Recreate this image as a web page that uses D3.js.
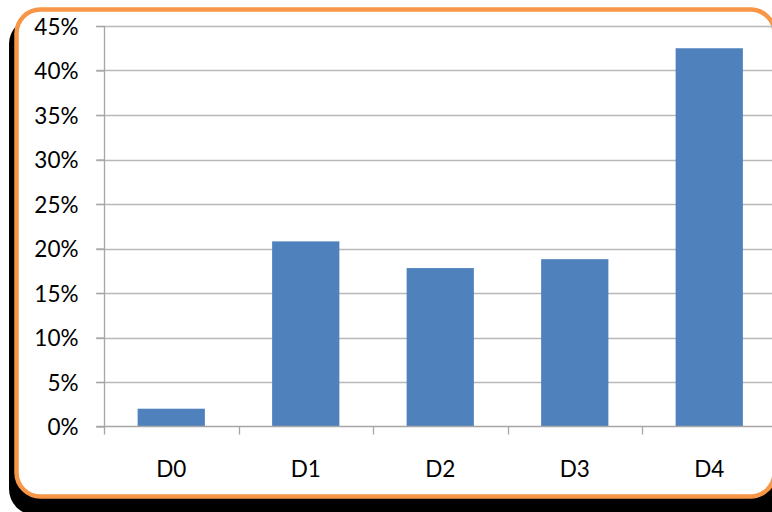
<!DOCTYPE html>
<html>
<head>
<meta charset="utf-8">
<script src="https://cdn.jsdelivr.net/npm/d3@7"></script>
<style>
  html, body { margin: 0; padding: 0; background: #ffffff; }
  svg { display: block; }
  text { font-family: Lato, "Open Sans", sans-serif; font-size: 22.5px; fill: #000; }
</style>
</head>
<body>
<svg id="chart" width="772" height="512"></svg>
<script>
// Share of records per class
const categories = ["D0", "D1", "D2", "D3", "D4"];
const shares = [0.02, 0.208, 0.178, 0.188, 0.425];
const yTicks = [0, 0.05, 0.10, 0.15, 0.20, 0.25, 0.30, 0.35, 0.40, 0.45];

const svg = d3.select("#chart");

// Rounded frame with a dark drop shadow
svg.append("rect")
  .attr("x", 9).attr("y", 18)
  .attr("width", 790).attr("height", 497)
  .attr("rx", 26).attr("ry", 26)
  .attr("fill", "#000");
svg.append("rect")
  .attr("x", 16.5).attr("y", 9.5)
  .attr("width", 758).attr("height", 487)
  .attr("rx", 24).attr("ry", 24)
  .attr("fill", "#fff")
  .attr("stroke", "#f79646")
  .attr("stroke-width", 4.5);

const plotLeft = 104, plotRight = 776.5;
const x = d3.scaleBand()
  .domain(categories)
  .range([plotLeft, plotRight])
  .paddingInner(0.5)
  .paddingOuter(0.25);
const y = d3.scaleLinear()
  .domain([0, 0.45])
  .range([426.5, 26]);

// Horizontal gridlines
svg.append("g")
  .selectAll("line")
  .data(yTicks.filter(d => d > 0))
  .join("line")
  .attr("x1", 96).attr("x2", 772)
  .attr("y1", d => Math.round(y(d)) + 0.5)
  .attr("y2", d => Math.round(y(d)) + 0.5)
  .attr("stroke", "#b8b8b8")
  .attr("stroke-width", 1.3);

// Bars
svg.append("g")
  .selectAll("rect")
  .data(categories)
  .join("rect")
  .attr("x", d => x(d))
  .attr("width", x.bandwidth())
  .attr("y", (d, i) => y(shares[i]))
  .attr("height", (d, i) => y(0) - y(shares[i]))
  .attr("fill", "#4f81bd");

// Y axis with percentage labels
const yAxis = d3.axisLeft(y)
  .tickValues(yTicks)
  .tickFormat(d3.format(".0%"))
  .tickSize(8)
  .tickPadding(18);
const gy = svg.append("g")
  .attr("transform", `translate(${plotLeft + 0.5},0)`)
  .call(yAxis);
gy.select(".domain").remove();
gy.selectAll(".tick line").attr("stroke", "#a6a6a6").attr("stroke-width", 1.3);
gy.selectAll(".tick text")
  .attr("font-size", null).attr("font-family", null)
  .attr("dy", "0.36em")
  .style("font-family", "Lato, 'Open Sans', sans-serif")
  .style("font-size", "22.5px");
gy.append("line")
  .attr("x1", 0).attr("x2", 0)
  .attr("y1", y(0.45)).attr("y2", y(0) + 8)
  .attr("stroke", "#a6a6a6").attr("stroke-width", 1.3);

// X axis with category tick marks between bands
const gx = svg.append("g");
gx.append("line")
  .attr("x1", 96).attr("x2", 772)
  .attr("y1", y(0)).attr("y2", y(0))
  .attr("stroke", "#a6a6a6").attr("stroke-width", 1.3);
const step = x.step();
gx.selectAll("line.cat")
  .data(d3.range(1, categories.length + 1))
  .join("line")
  .attr("class", "cat")
  .attr("x1", i => Math.round(plotLeft + i * step) + 0.5)
  .attr("x2", i => Math.round(plotLeft + i * step) + 0.5)
  .attr("y1", y(0)).attr("y2", y(0) + 8)
  .attr("stroke", "#a6a6a6").attr("stroke-width", 1.3);
gx.selectAll("text")
  .data(categories)
  .join("text")
  .attr("x", d => x(d) + x.bandwidth() / 2)
  .attr("y", 477)
  .attr("text-anchor", "middle")
  .text(d => d);
</script>
</body>
</html>
